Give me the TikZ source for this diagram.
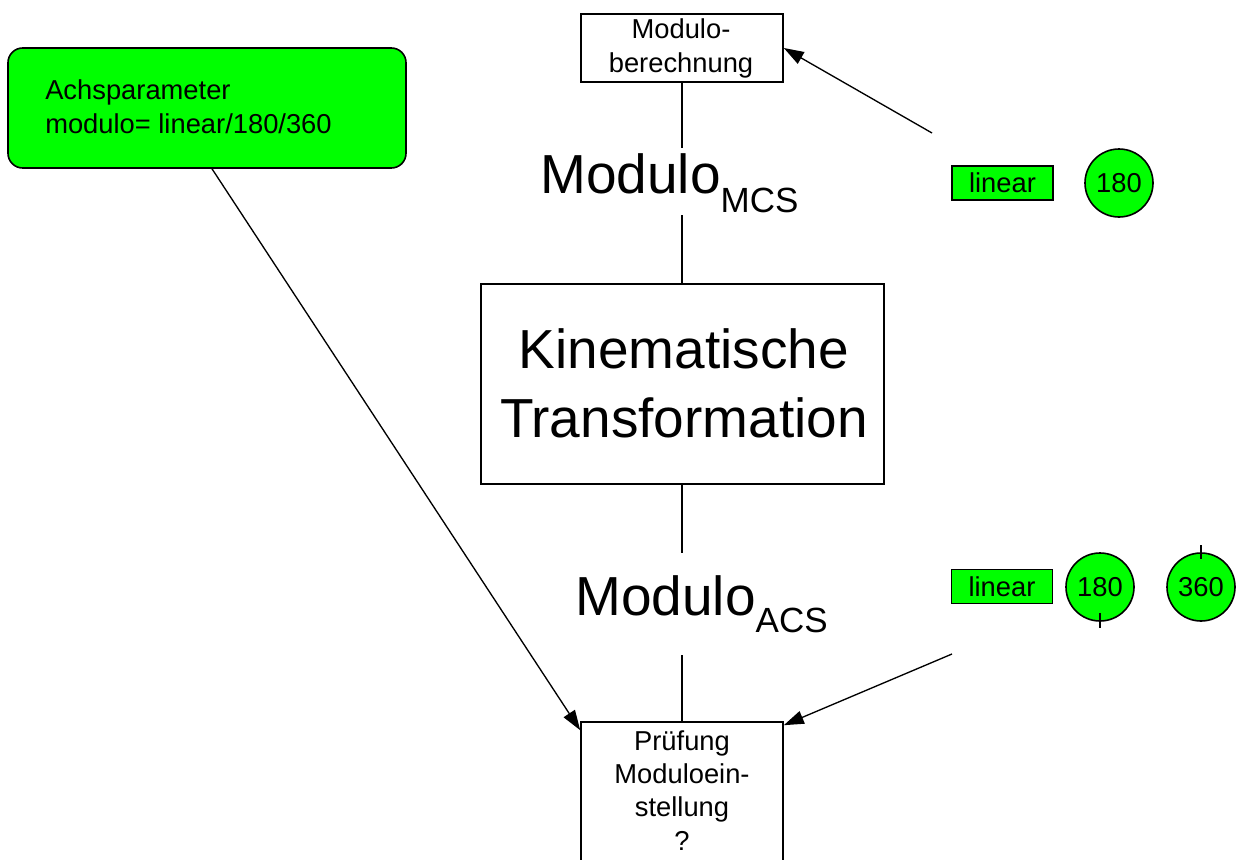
\documentclass[tikz,border=0pt]{standalone}
\usepackage{fontspec}
\setmainfont{Liberation Sans}
\usetikzlibrary{arrows.meta,fit,calc}
\newcommand\fs[2]{\fontsize{#1pt}{#2pt}\selectfont}

\begin{document}
\begin{tikzpicture}[x=0.75pt,y=-0.75pt,
  box/.style={draw=black, line width=1.2pt, inner sep=0pt},
  gbox/.style={box, fill=green},
  conn/.style={line width=1.5pt},
  arr/.style={line width=1pt, -{Triangle[length=15pt,width=10pt]}},
  small/.style={font=\fs{20.5}{25}, inner sep=0pt, align=center},
  big/.style={font=\fs{41.25}{51.75}, inner sep=0pt, align=center},
  tag/.style={gbox, minimum width=75.75pt, minimum height=25.5pt, font=\fs{20.5}{25}},
  ring/.style={circle, draw=black, fill=green, line width=1.2pt, inner sep=0pt,
    minimum size=51pt, font=\fs{20.5}{24}}
]
\useasboundingbox (0,0) rectangle (1239,860);
\clip (0,0) rectangle (1239,860);

% axis parameter box
\node[gbox, rounded corners=11pt, fit={(8,48)(406,168)}] (achs) {};
\node[small, align=left, anchor=base west] (achsT) at (45,133)
  {Achsparameter\\modulo= linear/180/360};

% modulo calculation box
\node[box, fit={(581,14)(783,82)}] (ber) {};
\node[small, anchor=base] (berT) at (681,72) {Modulo-\\berechnung};

% kinematic transformation
\node[box, fit={(481,284)(884,484)}] (kin) {};
\node[big, anchor=base] (kinT) at (684,437) {Kinematische\\Transformation};

% modulo labels
\node[inner sep=0pt, anchor=base west] (mcs) at (540,193)
  {\fs{41.25}{50}Modulo\raisebox{-14.25pt}{\fs{26.25}{30}MCS}};
\node[inner sep=0pt, anchor=base west] (acs) at (575,615)
  {\fs{41.25}{50}Modulo\raisebox{-12.75pt}{\fs{26.25}{30}ACS}};

% check box (runs past the lower edge)
\node[box, fit={(581,722)(783,890)}] (pruef) {};
\node[small, anchor=base] (pruefT) at (682,850) {Prüfung\\Moduloein-\\stellung\\?};

% option markers
\node[tag] (lin1) at (1002.5,183) {linear};
\node[ring] (c1) at (1119,183) {180};
\node[tag] (lin2) at (1002,586.5) {linear};
\node[ring] (c2) at (1100,587) {180};
\node[ring] (c3) at (1201,587) {360};
\draw[line width=1.2pt] ($(c2.south)+(0,-9)$) -- ($(c2.south)+(0,6)$);
\draw[line width=1.2pt] ($(c3.north)+(0,-7)$) -- ($(c3.north)+(0,7)$);

% vertical chain
\coordinate (m1a) at (682,148);
\coordinate (m1b) at (682,215);
\coordinate (m2a) at (682,553);
\coordinate (m2b) at (682,655);
\draw[conn] (ber.south -| m1a) -- (m1a);
\draw[conn] (m1b) -- (kin.north -| m1b);
\draw[conn] (kin.south -| m2a) -- (m2a);
\draw[conn] (m2b) -- (pruef.north -| m2b);

% arrows
\coordinate (s2) at (932,133);
\coordinate (s3) at (952,654);
\draw[arr] ([xshift=3.75pt]achs.south) -- ([yshift=-6.75pt]pruef.north west);
\draw[arr] (s2) -- (ber.east);
\draw[arr] (s3) -- ([yshift=-3pt]pruef.north east);
\end{tikzpicture}
\end{document}
